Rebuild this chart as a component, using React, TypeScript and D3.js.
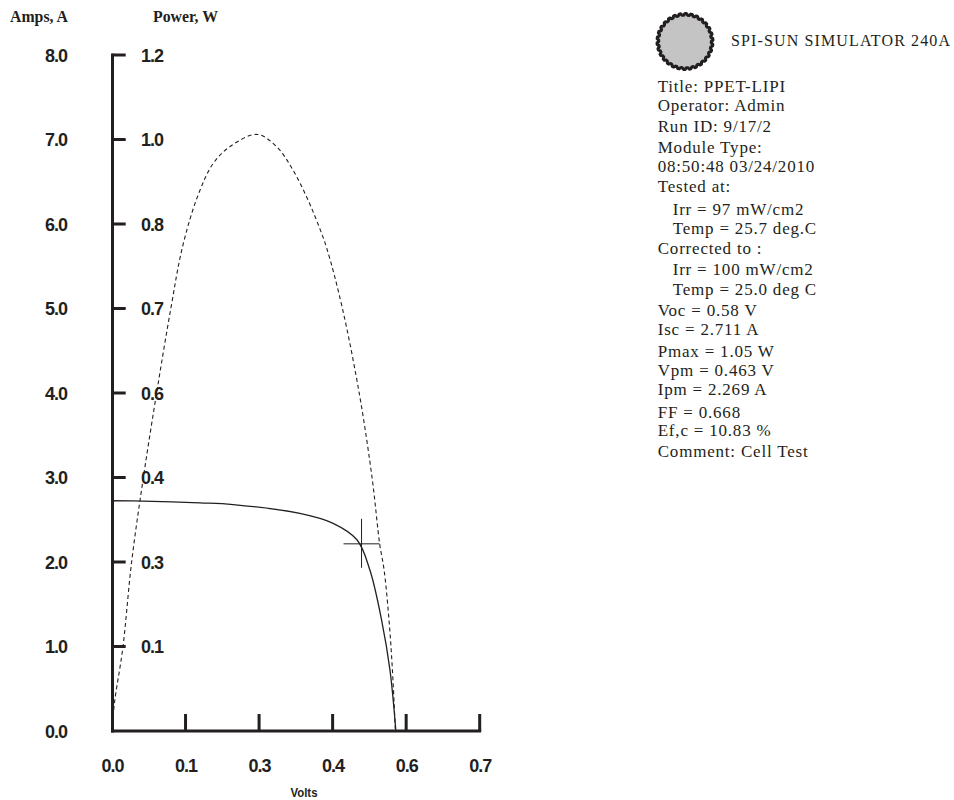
import * as d3 from "d3";
import React from "react";

// I-V curve (solid)
const ivVolts = [0, 0.063, 0.179, 0.247, 0.383, 0.45, 0.5, 0.526, 0.55, 0.567, 0.579];
const ivAmps = [2.725, 2.72, 2.70, 2.68, 2.575, 2.46, 2.26, 1.905, 1.31, 0.72, 0];

// P-V curve (dashed)
const pvVolts = [0, 0.005, 0.022, 0.04, 0.064, 0.091, 0.12, 0.144, 0.175, 0.206, 0.24, 0.296, 0.336, 0.369, 0.397, 0.417, 0.438, 0.47, 0.505, 0.531, 0.546, 0.555, 0.565, 0.572, 0.578];
const pvWatts = [0, 0.05, 0.147, 0.3, 0.45, 0.6, 0.75, 0.86, 0.95, 1.007, 1.037, 1.059, 1.037, 0.996, 0.948, 0.907, 0.857, 0.75, 0.596, 0.446, 0.332, 0.286, 0.197, 0.108, 0];

// max power marker as drawn
const markerVolts = 0.509;
const markerAmps = 2.215;

// ticks and their (odd, truncated) labels
const voltTicks = [0, 0.15, 0.3, 0.45, 0.6, 0.75];
const voltLabels = ["0.0", "0.1", "0.3", "0.4", "0.6", "0.7"];
const ampTicks = [0, 1, 2, 3, 4, 5, 6, 7, 8];
const ampLabels = ["0.0", "1.0", "2.0", "3.0", "4.0", "5.0", "6.0", "7.0", "8.0"];
const powerTicks = [0.15, 0.3, 0.45, 0.6, 0.75, 0.9, 1.05, 1.2];
const powerLabels = ["0.1", "0.3", "0.4", "0.6", "0.7", "0.8", "1.0", "1.2"];

const infoLines = [
  "Title: PPET-LIPI",
  "Operator: Admin",
  "Run ID: 9/17/2",
  "Module Type:",
  "08:50:48 03/24/2010",
  "Tested at:",
  "  Irr = 97 mW/cm2",
  "  Temp = 25.7 deg.C",
  "Corrected to :",
  "  Irr = 100 mW/cm2",
  "  Temp = 25.0 deg C",
  "Voc = 0.58 V",
  "Isc = 2.711 A",
  "Pmax = 1.05 W",
  "Vpm = 0.463 V",
  "Ipm = 2.269 A",
  "FF = 0.668",
  "Ef,c = 10.83 %",
  "Comment: Cell Test",
];
const infoBaselines = [92, 111, 131.5, 153, 172, 191.5, 215, 233.5, 254, 274.5, 294.5, 315.5, 335, 356.5, 375.5, 395, 418, 436, 457];

const ink = "#231f20";
const serif = "'Liberation Serif', 'Times New Roman', serif";
const sans = "'Liberation Sans', Arial, sans-serif";

export default function App() {
  const x = d3.scaleLinear().domain([0, 0.75]).range([112, 479.7]);
  const yA = d3.scaleLinear().domain([0, 8]).range([731, 55]);
  const yP = d3.scaleLinear().domain([0, 1.2]).range([731, 55]);

  const ivLine = d3.line<number>()
    .x((_, i) => x(ivVolts[i]))
    .y((d) => yA(d))
    .curve(d3.curveCatmullRom.alpha(0.5));
  const pvLine = d3.line<number>()
    .x((_, i) => x(pvVolts[i]))
    .y((d) => yP(d))
    .curve(d3.curveCatmullRom.alpha(0.5));

  // gear-like logo outline
  const teeth = 30;
  const gearPts: [number, number][] = d3.range(teeth * 4).map((k) => {
    const a = (k / (teeth * 4)) * 2 * Math.PI;
    const r = (k % 4 === 0 || k % 4 === 1) ? 28 : 26.3;
    return [a, r];
  });
  const gearPath = d3.lineRadial().curve(d3.curveLinearClosed)(gearPts) || "";

  const mx = x(markerVolts);
  const my = yA(markerAmps);

  return (
    <svg width={954} height={800} style={{ position: "absolute", left: 0, top: 0, background: "#fff" }}>
      {/* axis titles */}
      <text x={10} y={22} fontFamily={serif} fontWeight="bold" fontSize={16} fill={ink}
        textLength={58} lengthAdjust="spacingAndGlyphs">Amps, A</text>
      <text x={153} y={22} fontFamily={serif} fontWeight="bold" fontSize={16} fill={ink}
        textLength={65} lengthAdjust="spacingAndGlyphs">Power, W</text>

      {/* axes */}
      <line x1={112.5} x2={112.5} y1={yA(8) - 1.5} y2={yA(0) + 1.5} stroke={ink} strokeWidth={3} />
      <line x1={111} x2={481.2} y1={yA(0)} y2={yA(0)} stroke={ink} strokeWidth={3} />

      {ampTicks.slice(1).map((t) => (
        <line key={"at" + t} x1={112.5} x2={125.7} y1={yA(t)} y2={yA(t)} stroke={ink} strokeWidth={3} />
      ))}
      {ampTicks.map((t, i) => (
        <text key={"al" + t} x={67} y={yA(t) + 6.5} textAnchor="end" fontFamily={sans}
          fontWeight="900" fontSize={18} letterSpacing={-1} fill={ink}>{ampLabels[i]}</text>
      ))}
      {powerTicks.map((t, i) => (
        <text key={"pl" + t} x={141} y={yP(t) + 6.5} fontFamily={sans}
          fontWeight="900" fontSize={18} letterSpacing={-1} fill={ink}>{powerLabels[i]}</text>
      ))}

      {voltTicks.slice(1).map((t) => (
        <line key={"vt" + t} x1={x(t)} x2={x(t)} y1={yA(0)} y2={yA(0) - 17} stroke={ink} strokeWidth={3} />
      ))}
      {voltTicks.map((t, i) => (
        <text key={"vl" + t} x={x(t) + 0.5} y={772} textAnchor="middle" fontFamily={sans}
          fontWeight="900" fontSize={18} letterSpacing={-1} fill={ink}>{voltLabels[i]}</text>
      ))}
      <text x={304} y={797} textAnchor="middle" fontFamily={sans} fontWeight="bold" fontSize={12}
        fill={ink} textLength={27} lengthAdjust="spacingAndGlyphs">Volts</text>

      {/* curves */}
      <path d={pvLine(pvWatts) || ""} fill="none" stroke={ink} strokeWidth={1.1} strokeDasharray="4,3" />
      <path d={ivLine(ivAmps) || ""} fill="none" stroke={ink} strokeWidth={1.3} />

      {/* max power marker */}
      <line x1={mx - 18} x2={mx + 18} y1={my} y2={my} stroke={ink} strokeWidth={1} />
      <line x1={mx} x2={mx} y1={my - 25} y2={my + 24} stroke={ink} strokeWidth={1} />

      {/* logo and header */}
      <path d={gearPath} transform="translate(685,41.5)" fill="#c4c4c4" stroke={ink} strokeWidth={3} strokeLinejoin="round" />
      <text x={731} y={46} fontFamily={serif} fontSize={16}
        fill={ink} textLength={219} lengthAdjust="spacing">SPI-SUN SIMULATOR 240A</text>

      {/* info block */}
      {infoLines.map((s, i) => {
        const indent = s.startsWith("  ");
        return (
          <text key={"il" + i} x={indent ? 672.7 : 657.7} y={infoBaselines[i]}
            fontFamily={serif} fontSize={17} letterSpacing={0.8} fill={ink}>
            {s.trim()}
          </text>
        );
      })}
    </svg>
  );
}
